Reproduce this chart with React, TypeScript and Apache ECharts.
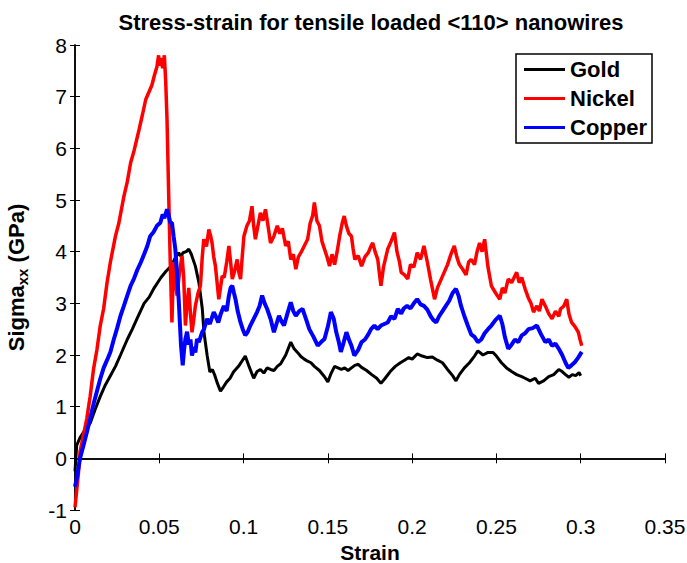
import React, { useEffect, useRef } from "react";
import * as echarts from "echarts";

const titleText = "Stress-strain for tensile loaded <110> nanowires";
const seriesNames = ["Gold", "Nickel", "Copper"];
const seriesColors = ["#000000", "#ff0000", "#0000ff"];
const seriesWidths = [3, 3.5, 4];

const gold: number[][] = [
  [0, -0.25], [0.001, 0.25], [0.003, 0.4], [0.006, 0.55], [0.009, 0.68], [0.012, 0.95], [0.015, 1.2],
  [0.018, 1.42], [0.021, 1.6], [0.024, 1.78], [0.027, 2.0], [0.031, 2.3], [0.034, 2.5], [0.037, 2.72],
  [0.041, 3.0], [0.044, 3.12], [0.047, 3.3], [0.051, 3.5], [0.054, 3.62], [0.057, 3.72], [0.059, 3.85],
  [0.0615, 3.98], [0.063, 3.9], [0.064, 3.98], [0.066, 4.0], [0.0675, 4.05], [0.069, 3.95], [0.0714, 3.72],
  [0.0735, 3.4], [0.0755, 2.9], [0.0765, 2.44], [0.0784, 1.99], [0.08, 1.67], [0.0815, 1.72], [0.083, 1.6],
  [0.0845, 1.45], [0.0863, 1.3], [0.088, 1.38], [0.09, 1.48], [0.092, 1.55], [0.094, 1.67], [0.097, 1.78],
  [0.099, 1.88], [0.101, 1.98], [0.103, 1.8], [0.106, 1.55], [0.108, 1.68], [0.11, 1.72], [0.112, 1.65],
  [0.114, 1.75], [0.116, 1.72], [0.118, 1.7], [0.12, 1.78], [0.122, 1.83], [0.125, 2.0], [0.128, 2.25],
  [0.13, 2.12], [0.132, 2.05], [0.134, 1.97], [0.136, 1.92], [0.138, 1.88], [0.14, 1.85], [0.142, 1.78],
  [0.145, 1.7], [0.148, 1.58], [0.15, 1.48], [0.152, 1.65], [0.154, 1.78], [0.156, 1.75], [0.158, 1.72],
  [0.16, 1.75], [0.162, 1.7], [0.164, 1.75], [0.166, 1.8], [0.168, 1.82], [0.17, 1.76], [0.173, 1.7],
  [0.176, 1.62], [0.179, 1.55], [0.1815, 1.45], [0.184, 1.55], [0.187, 1.68], [0.19, 1.78], [0.193, 1.85],
  [0.1955, 1.9], [0.198, 1.95], [0.2, 1.92], [0.203, 2.02], [0.206, 1.98], [0.209, 1.95], [0.212, 1.96],
  [0.215, 1.9], [0.218, 1.85], [0.221, 1.72], [0.224, 1.6], [0.226, 1.5], [0.228, 1.62], [0.231, 1.75],
  [0.234, 1.85], [0.237, 1.98], [0.239, 2.08], [0.242, 2.0], [0.245, 2.05], [0.248, 2.05], [0.25, 1.98],
  [0.253, 1.85], [0.256, 1.75], [0.259, 1.68], [0.262, 1.62], [0.265, 1.58], [0.267, 1.55], [0.27, 1.5],
  [0.273, 1.55], [0.275, 1.45], [0.278, 1.5], [0.281, 1.58], [0.284, 1.62], [0.287, 1.72], [0.289, 1.68],
  [0.291, 1.62], [0.293, 1.57], [0.295, 1.62], [0.297, 1.6], [0.299, 1.66], [0.3, 1.6],
];

const nickel: number[][] = [
  [0, -0.95], [0.002, -0.3], [0.003, 0.13], [0.005, 0.45], [0.007, 0.77], [0.009, 1.2], [0.011, 1.73],
  [0.013, 2.1], [0.015, 2.57], [0.017, 2.9], [0.019, 3.4], [0.021, 3.8], [0.024, 4.3], [0.026, 4.55],
  [0.029, 5.07], [0.031, 5.35], [0.033, 5.72], [0.035, 5.95], [0.038, 6.36], [0.04, 6.65], [0.042, 6.95],
  [0.044, 7.1], [0.0456, 7.22], [0.047, 7.4], [0.0486, 7.58], [0.0496, 7.8], [0.05, 7.6], [0.051, 7.75],
  [0.052, 7.55], [0.053, 7.8], [0.0538, 7.3], [0.0546, 6.55], [0.0556, 5.07], [0.0565, 3.8], [0.0575, 2.63],
  [0.0585, 3.8], [0.0595, 3.5], [0.0605, 3.15], [0.062, 3.6], [0.0635, 3.92], [0.0645, 3.5], [0.0655, 2.57],
  [0.0665, 3.0], [0.0675, 3.3], [0.0685, 2.8], [0.0694, 2.44], [0.0705, 2.7], [0.0714, 2.95], [0.073, 3.2],
  [0.0744, 3.34], [0.0755, 3.9], [0.0764, 4.24], [0.078, 4.1], [0.0794, 4.43], [0.0805, 4.3], [0.0813, 4.17],
  [0.0823, 3.9], [0.0833, 3.72], [0.0843, 3.4], [0.0853, 3.08], [0.0863, 3.3], [0.0873, 3.53], [0.0885, 3.5],
  [0.09, 3.8], [0.0913, 4.11], [0.0923, 3.8], [0.0933, 3.47], [0.0945, 3.6], [0.0962, 3.85], [0.0972, 3.6],
  [0.0982, 3.47], [0.0992, 3.9], [0.1002, 4.3], [0.102, 4.5], [0.1035, 4.6], [0.105, 4.88], [0.106, 4.5],
  [0.107, 4.24], [0.1085, 4.5], [0.11, 4.75], [0.1115, 4.6], [0.113, 4.82], [0.1145, 4.5], [0.116, 4.17],
  [0.118, 4.3], [0.12, 4.5], [0.1215, 4.35], [0.123, 4.45], [0.125, 4.11], [0.1265, 4.2], [0.128, 3.85],
  [0.1295, 3.95], [0.131, 3.66], [0.1325, 3.9], [0.134, 3.98], [0.136, 4.11], [0.138, 4.24], [0.1395, 4.55],
  [0.141, 4.7], [0.142, 4.95], [0.1435, 4.6], [0.145, 4.5], [0.1465, 4.2], [0.148, 4.05], [0.1495, 3.9],
  [0.151, 3.72], [0.1525, 3.95], [0.154, 3.75], [0.1555, 4.0], [0.157, 4.3], [0.1585, 4.55], [0.1597, 4.69],
  [0.161, 4.5], [0.1625, 4.35], [0.164, 4.3], [0.165, 4.05], [0.166, 3.85], [0.168, 3.92], [0.17, 3.72],
  [0.172, 3.9], [0.174, 3.98], [0.1755, 4.1], [0.1766, 4.17], [0.178, 4.0], [0.1796, 3.85], [0.1805, 3.6],
  [0.1815, 3.34], [0.183, 3.7], [0.1855, 4.05], [0.1875, 4.2], [0.1895, 4.37], [0.191, 4.0], [0.1925, 3.8],
  [0.1935, 3.6], [0.1955, 3.55], [0.1974, 3.47], [0.199, 3.75], [0.201, 3.7], [0.203, 3.98], [0.205, 3.85],
  [0.207, 4.11], [0.209, 3.8], [0.211, 3.45], [0.2133, 3.08], [0.215, 3.3], [0.217, 3.45], [0.219, 3.6],
  [0.221, 3.75], [0.223, 3.95], [0.225, 4.11], [0.2265, 3.9], [0.228, 3.75], [0.23, 3.66], [0.232, 3.55],
  [0.2335, 3.8], [0.235, 3.85], [0.237, 3.75], [0.2385, 4.0], [0.24, 4.17], [0.2415, 4.0], [0.243, 4.24],
  [0.245, 3.7], [0.247, 3.34], [0.2495, 3.2], [0.252, 3.08], [0.2535, 3.3], [0.255, 3.2], [0.257, 3.47],
  [0.259, 3.4], [0.262, 3.6], [0.2635, 3.4], [0.265, 3.5], [0.267, 3.28], [0.269, 3.1], [0.2705, 3.0],
  [0.272, 2.83], [0.274, 2.95], [0.2755, 2.85], [0.277, 3.08], [0.279, 2.95], [0.281, 2.8], [0.283, 2.7],
  [0.285, 2.85], [0.287, 2.75], [0.288, 2.89], [0.29, 2.95], [0.2917, 3.08], [0.293, 2.8], [0.2946, 2.63],
  [0.2966, 2.55], [0.2986, 2.44], [0.2996, 2.3], [0.3006, 2.18],
];

const copper: number[][] = [
  [0, -0.55], [0.001, -0.4], [0.003, 0.0], [0.005, 0.25], [0.007, 0.5], [0.009, 0.77], [0.011, 1.05],
  [0.013, 1.3], [0.015, 1.54], [0.017, 1.75], [0.019, 1.9], [0.021, 2.06], [0.023, 2.3], [0.025, 2.52],
  [0.027, 2.76], [0.029, 2.95], [0.031, 3.15], [0.033, 3.34], [0.035, 3.48], [0.037, 3.65], [0.039, 3.79],
  [0.041, 3.95], [0.043, 4.12], [0.0446, 4.3], [0.0466, 4.38], [0.0486, 4.5], [0.0506, 4.56], [0.052, 4.72],
  [0.053, 4.65], [0.0546, 4.82], [0.0556, 4.7], [0.0565, 4.56], [0.0575, 4.56], [0.0585, 4.3], [0.0595, 4.05],
  [0.0605, 3.6], [0.0615, 3.08], [0.0629, 2.18], [0.0639, 1.8], [0.0647, 2.1], [0.0655, 2.31], [0.0665, 2.45],
  [0.0675, 2.2], [0.0685, 2.3], [0.0694, 1.99], [0.0705, 2.15], [0.0714, 2.05], [0.0724, 2.31], [0.0735, 2.25],
  [0.0754, 2.44], [0.0765, 2.5], [0.0784, 2.7], [0.08, 2.6], [0.0823, 2.83], [0.0835, 2.75], [0.085, 2.63],
  [0.0865, 2.8], [0.0883, 2.95], [0.09, 2.85], [0.0913, 3.15], [0.0923, 3.3], [0.0933, 3.34], [0.0943, 3.2],
  [0.0952, 3.08], [0.0965, 2.85], [0.0982, 2.63], [0.0995, 2.5], [0.101, 2.38], [0.1025, 2.45], [0.104, 2.57],
  [0.106, 2.7], [0.108, 2.83], [0.1095, 2.95], [0.111, 3.15], [0.1125, 3.0], [0.114, 2.89], [0.116, 2.7],
  [0.118, 2.44], [0.1195, 2.6], [0.121, 2.76], [0.1225, 2.65], [0.124, 2.57], [0.126, 2.8], [0.128, 3.02],
  [0.1295, 2.85], [0.131, 2.76], [0.133, 2.85], [0.135, 2.89], [0.137, 2.7], [0.139, 2.5], [0.1415, 2.35],
  [0.144, 2.18], [0.146, 2.25], [0.148, 2.31], [0.15, 2.55], [0.1518, 2.83], [0.1535, 2.7], [0.155, 2.44],
  [0.1565, 2.25], [0.1577, 2.06], [0.159, 2.2], [0.161, 2.44], [0.1625, 2.3], [0.164, 2.18], [0.1657, 1.99],
  [0.168, 2.1], [0.17, 2.25], [0.172, 2.3], [0.174, 2.4], [0.1756, 2.5], [0.1776, 2.57], [0.1795, 2.5],
  [0.1815, 2.57], [0.1835, 2.6], [0.1855, 2.63], [0.1875, 2.75], [0.1895, 2.7], [0.1915, 2.89], [0.1935, 2.8],
  [0.195, 2.9], [0.197, 2.95], [0.199, 2.9], [0.201, 3.0], [0.203, 3.08], [0.205, 2.98], [0.207, 2.95],
  [0.209, 2.88], [0.211, 2.75], [0.2125, 2.68], [0.2143, 2.63], [0.216, 2.75], [0.218, 2.85], [0.22, 2.95],
  [0.222, 3.05], [0.224, 3.2], [0.226, 3.28], [0.2275, 3.15], [0.229, 2.95], [0.231, 2.75], [0.233, 2.57],
  [0.235, 2.4], [0.237, 2.35], [0.239, 2.25], [0.241, 2.3], [0.243, 2.42], [0.245, 2.5], [0.247, 2.57],
  [0.2495, 2.68], [0.252, 2.76], [0.2535, 2.6], [0.255, 2.35], [0.257, 2.12], [0.259, 2.2], [0.261, 2.3],
  [0.263, 2.25], [0.265, 2.38], [0.267, 2.42], [0.269, 2.5], [0.2715, 2.52], [0.274, 2.57], [0.2765, 2.4],
  [0.279, 2.25], [0.281, 2.3], [0.283, 2.18], [0.285, 2.22], [0.287, 2.12], [0.289, 2.0], [0.291, 1.85],
  [0.2926, 1.75], [0.2945, 1.8], [0.2965, 1.86], [0.2985, 1.95], [0.3006, 2.06],
];

const seriesData = [gold, nickel, copper];
const FONT = "'Liberation Sans', Arial, Helvetica, sans-serif";

export default function App() {
  const ref = useRef<HTMLDivElement>(null);
  useEffect(() => {
    if (!ref.current) return;
    const chart = echarts.init(ref.current, null, { renderer: "svg" });
    const axisCommon = {
      axisLine: { show: true, lineStyle: { color: "#000", width: 1.5 } },
      axisTick: { show: true, inside: true, length: 5, lineStyle: { color: "#000", width: 1 } },
      splitLine: { show: false },
    };
    chart.setOption({
      animation: false,
      backgroundColor: "#fff",
      textStyle: { fontFamily: FONT },
      title: {
        text: titleText,
        left: 366,
        top: 6,
        textAlign: "center",
        textStyle: { fontSize: 22, fontWeight: "bold", color: "#000", fontFamily: FONT },
      },
      grid: { left: 75, right: 22, top: 45, bottom: 53, containLabel: false, outerBoundsMode: "none" },
      legend: {
        data: seriesNames,
        orient: "vertical",
        right: 35,
        top: 54,
        icon: "rect",
        backgroundColor: "#fff",
        borderColor: "#000",
        borderWidth: 1.5,
        borderRadius: 0,
        padding: [3, 5, 3, 8],
        itemGap: 4,
        itemWidth: 41,
        itemHeight: 3,
        textStyle: { fontSize: 22, fontWeight: "bold", color: "#000", fontFamily: FONT, lineHeight: 25 },
      },
      xAxis: [
        {
          type: "value",
          min: 0,
          max: 0.35,
          interval: 0.05,
          name: "Strain",
          nameLocation: "middle",
          nameGap: 23,
          nameTextStyle: { fontSize: 21, fontWeight: "bold", color: "#000", fontFamily: FONT, lineHeight: 22 },
          axisLabel: { fontSize: 21, color: "#000", margin: 6, fontFamily: FONT },
          ...axisCommon,
        },
        {
          type: "value",
          position: "top",
          min: 0,
          max: 0.35,
          interval: 0.05,
          axisLabel: { show: false },
          ...axisCommon,
        },
      ],
      yAxis: [
        {
          type: "value",
          min: -1,
          max: 8,
          interval: 1,
          name: "{a|Sigma}{b|xx}{a| (GPa)}",
          nameLocation: "middle",
          nameGap: 45,
          nameTextStyle: {
            rich: {
              a: { fontSize: 22, fontWeight: "bold", color: "#000", fontFamily: FONT, lineHeight: 28, verticalAlign: "middle" },
              b: { fontSize: 15, fontWeight: "bold", color: "#000", fontFamily: FONT, lineHeight: 28, verticalAlign: "bottom" },
            },
          },
          axisLabel: { fontSize: 21, color: "#000", margin: 8, fontFamily: FONT },
          ...axisCommon,
        },
        {
          type: "value",
          position: "right",
          min: -1,
          max: 8,
          interval: 1,
          axisLabel: { show: false },
          ...axisCommon,
        },
      ],
      series: seriesData.map((d, i) => ({
        name: seriesNames[i],
        type: "line",
        data: d,
        symbol: "none",
        showSymbol: false,
        lineStyle: { color: seriesColors[i], width: seriesWidths[i] },
        itemStyle: { color: seriesColors[i] },
        emphasis: { disabled: true },
      })),
    });
    return () => chart.dispose();
  }, []);
  return <div ref={ref} style={{ position: "fixed", left: 0, top: 0, width: 687, height: 563 }} />;
}
